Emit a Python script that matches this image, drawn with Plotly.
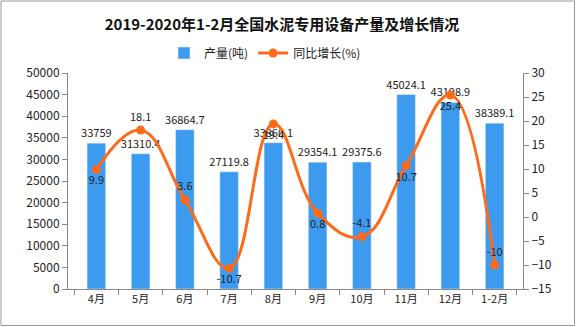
import plotly.graph_objects as go

months = ["4月", "5月", "6月", "7月", "8月", "9月", "10月", "11月", "12月", "1-2月"]
output = [33759, 31310.4, 36864.7, 27119.8, 33860.1, 29354.1, 29375.6, 45024.1, 43198.9, 38389.1]
output_labels = ["33759", "31310.4", "36864.7", "27119.8", "33860.1", "29354.1", "29375.6", "45024.1", "43198.9", "38389.1"]
growth = [9.9, 18.1, 3.6, -10.7, 19.4, 0.8, -4.1, 10.7, 25.4, -10]
growth_labels = ["9.9", "18.1", "3.6", "-10.7", "19.4", "0.8", "-4.1", "10.7", "25.4", "-10"]
growth_pos = ["bottom center", "top center", "top center", "bottom center", "bottom center",
              "bottom center", "top center", "bottom center", "bottom center", "top center"]

W, H = 576, 327
L, R, T, B = 68, 53, 73, 38
pw, ph = W - L - R, H - T - B

font = "Noto Sans CJK SC"
fig = go.Figure()
fig.add_trace(go.Bar(
    x=months, y=output, name="产量(吨)", marker_color="#3D9BEF",
    text=output_labels, textposition="outside", cliponaxis=False,
    constraintext="none",
    textfont=dict(size=11, color="#222", family=font),
))
fig.add_trace(go.Scatter(
    x=months, y=growth, name="同比增长(%)", yaxis="y2", mode="lines+markers+text",
    line=dict(color="#FF6A1A", width=3, shape="spline", smoothing=1.2),
    marker=dict(size=9, color="#FF6A1A"),
    text=growth_labels, textposition=growth_pos, cliponaxis=False,
    textfont=dict(size=11, color="#222", family=font),
))

fig.update_layout(
    width=W, height=H, margin=dict(l=L, r=R, t=T, b=B),
    paper_bgcolor="white", plot_bgcolor="white",
    font=dict(family=font, size=12, color="#222"),
    bargap=0.58,
    title=dict(text="<b>2019-2020年1-2月全国水泥专用设备产量及增长情况</b>",
               x=282 / W, xanchor="center", y=1 - 25 / H, yanchor="middle",
               font=dict(size=15, color="#111", family=font)),
    legend=dict(orientation="h", x=(265 - L) / pw, xanchor="center",
                y=1 + (T - 53) / ph, yanchor="middle",
                font=dict(size=12, family=font), bgcolor="rgba(0,0,0,0)"),
    xaxis=dict(showline=True, linecolor="#888", ticks="outside", tickcolor="#888",
               ticklen=5, tickson="boundaries", showgrid=False,
               tickfont=dict(size=11)),
    yaxis=dict(range=[0, 50000], dtick=5000, tickformat="d", showline=True, linecolor="#888",
               ticks="outside", tickcolor="#888", ticklen=5, showgrid=False,
               zeroline=False, tickfont=dict(size=12)),
    yaxis2=dict(range=[-15, 30], dtick=5, overlaying="y", side="right",
                showline=True, linecolor="#888", ticks="outside", tickcolor="#888",
                ticklen=5, showgrid=False, zeroline=False, tickfont=dict(size=12)),
    shapes=[dict(type="rect", xref="paper", yref="paper",
                 x0=-(L - 1) / pw, x1=1 + (R - 1.5) / pw,
                 y0=-(B - 1.5) / ph, y1=1 + (T - 1) / ph,
                 line=dict(color="#999", width=1))],
)
fig.write_html("out.html")
